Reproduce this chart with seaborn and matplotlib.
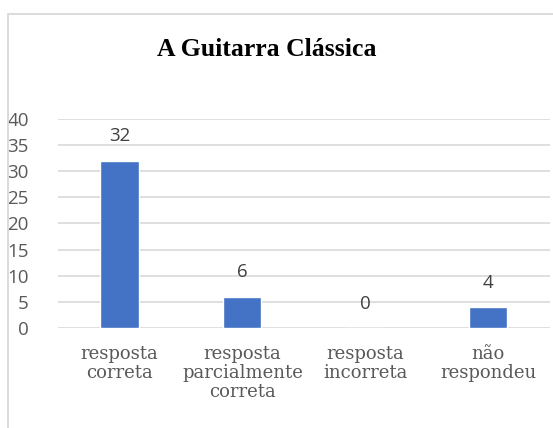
import matplotlib
matplotlib.use("Agg")
import matplotlib.pyplot as plt
import seaborn as sns
import pandas as pd
from matplotlib.patches import Rectangle

# chart data
categories = ["resposta\ncorreta", "resposta\nparcialmente\ncorreta",
              "resposta\nincorreta", "não\nrespondeu"]
values = [32, 6, 0, 4]
yticks = [0, 5, 10, 15, 20, 25, 30, 35, 40]
title = "A Guitarra Clássica"

df = pd.DataFrame({"categoria": categories, "valor": values})

sns.set_theme(style="white")
fig = plt.figure(figsize=(5.53, 4.28), dpi=100)
ax = fig.add_axes([0.105, 0.234, 0.889, 0.488])

sns.barplot(data=df, x="categoria", y="valor", color="#4472C4",
            saturation=1, width=0.31, ax=ax, zorder=3)

ax.set_ylim(0, 40)
ax.set_yticks(yticks)
ax.set_yticklabels([str(t) for t in yticks], fontsize=13.5, color="#595959",
                   family="Open Sans")
ax.set_xticks(range(len(categories)))
ax.set_xticklabels(categories, fontsize=13, color="#595959",
                   family="DejaVu Serif", linespacing=1.08)
ax.tick_params(axis="y", length=0, pad=21)
ax.tick_params(axis="x", length=0, pad=12)
ax.set_xlabel("")
ax.set_ylabel("")
ax.grid(axis="y", color="#d9d9d9", linewidth=1.2, zorder=0)
for s in ax.spines.values():
    s.set_visible(False)

ax.bar_label(ax.containers[0], labels=[str(v) for v in values], padding=11,
             fontsize=13.5, color="#404040", family="Open Sans")

fig.text(0.482, 0.885, title, ha="center", va="center", fontsize=18.5,
         fontweight="bold", family="Liberation Serif", color="black")

# chart frame
fig.patches.append(Rectangle((0.0145, -0.1), 1.1, 1.067, transform=fig.transFigure,
                             fill=False, edgecolor="#d9d9d9", linewidth=1.3))

fig.savefig("out.png", dpi=100)
